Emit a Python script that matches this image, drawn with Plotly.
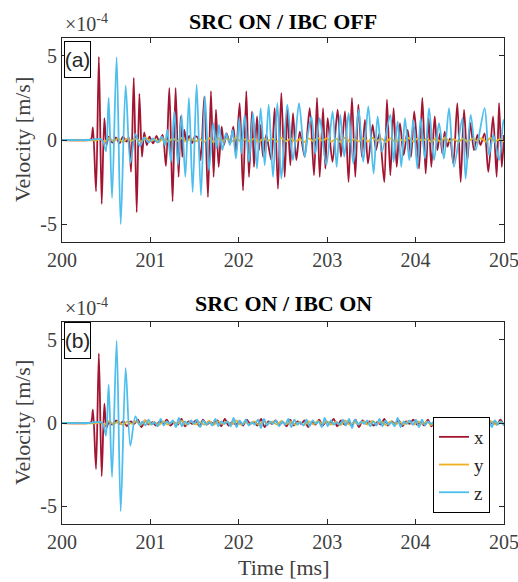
import numpy as np
import plotly.graph_objects as go

# ---------------- data (values x1e-4 m/s, time in ms) ----------------
# Panel (a): SRC ON / IBC OFF  -- (time, value) extrema
x_top = [(200.0, 0), (200.30, 0), (200.33, 0.05), (200.350, 0.75), (200.385, -3.06), (200.417, 4.95),
         (200.449, -3.8), (200.479, 1.3), (200.503, -0.3), (200.53, 0.2), (200.57, -0.15), (200.61, 0.15),
         (200.65, -0.2), (200.69, 0.2), (200.73, -0.1), (200.755, 0.15), (200.781, -1.9), (200.812, 3.7),
         (200.845, -4.3), (200.875, 2.75), (200.905, -1.0), (200.93, 0.45), (200.96, -0.3), (200.99, 0.2),
         (201.03, -0.2), (201.07, 0.25), (201.10, -0.1), (201.138, 0.3), (201.176, -1.55), (201.214, 3.1),
         (201.251, -3.65), (201.285, 3.1), (201.319, -2.2), (201.342, 1.4), (201.361, -1.0), (201.383, 0.6),
         (201.41, -0.1), (201.44, 0.25), (201.47, -0.2), (201.504, 0.2), (201.534, 0.15), (201.568, -1.2),
         (201.61, 2.6), (201.651, -3.4), (201.685, 2.9), (201.715, -2.2), (201.742, 1.8), (201.772, -1.6),
         (201.806, 0.8), (201.832, -0.3), (201.862, 0.4), (201.9, -0.2), (201.938, 0.8), (201.968, -0.8),
         (202.01, 2.2), (202.048, -3.0), (202.085, 2.9), (202.115, -2.2), (202.149, 1.7), (202.172, -1.6),
         (202.206, 1.4), (202.229, -0.6), (202.247, 0.9), (202.274, -1.0), (202.31, 0.3), (202.368, -1.2),
         (202.406, 1.9), (202.443, -2.9), (202.481, 2.8), (202.519, -2.2), (202.549, 1.8), (202.583, -1.5),
         (202.613, 1.6), (202.651, -1.2), (202.69, 0.5), (202.745, -1.0), (202.802, 1.9), (202.851, -2.1),
         (202.885, 2.5), (202.915, -2.2), (202.953, 1.9), (202.979, -1.7), (203.005, 1.3), (203.06, -1.3),
         (203.118, 1.8), (203.156, -1.0), (203.201, 1.7), (203.242, -2.5), (203.28, 2.5), (203.318, -2.2),
         (203.352, 2.1), (203.393, -1.0), (203.427, 1.2), (203.461, -1.4), (203.514, 0.9), (203.552, -0.6),
         (203.59, 0.4), (203.646, -2.5), (203.676, 2.4), (203.714, -2.1), (203.751, 1.9), (203.786, -1.6),
         (203.823, 1.0), (203.865, -0.9), (203.91, 0.6), (203.948, -1.0), (203.985, 1.7), (204.039, -1.7),
         (204.076, 2.5), (204.114, -2.0), (204.148, 1.3), (204.178, -1.6), (204.216, 1.4), (204.246, -0.6),
         (204.276, 0.4), (204.302, -0.8), (204.329, 0.5), (204.36, -0.4), (204.39, 0.1), (204.427, -1.4),
         (204.472, 2.2), (204.51, -2.5), (204.548, 1.8), (204.585, -1.2), (204.62, 1.0), (204.66, -0.6),
         (204.70, 0.3), (204.735, -0.3), (204.78, 0.4), (204.823, -1.9), (204.876, 1.4), (204.917, -2.2),
         (204.944, 2.2), (204.975, -1.6), (205.0, 0.3)]

z_top = [(200.0, 0), (200.30, 0), (200.44, 0.05), (200.47, -0.15), (200.498, -0.67), (200.528, 2.5),
         (200.566, -3.45), (200.618, 4.92), (200.664, -5.0), (200.72, 3.23), (200.773, -1.37), (200.83, 0.36),
         (200.882, -0.38), (200.93, 0.15), (200.98, -0.15), (201.03, 0.1), (201.08, -0.15), (201.13, 0.2),
         (201.165, -0.3), (201.191, 0.6), (201.233, -1.3), (201.27, 1.7), (201.312, -1.5), (201.353, 1.5),
         (201.395, -2.2), (201.436, 2.5), (201.478, -3.1), (201.523, 3.3), (201.572, -3.3), (201.617, 2.6),
         (201.662, -1.8), (201.711, 1.0), (201.749, -0.5), (201.776, 0.9), (201.813, -0.6), (201.855, 0.4),
         (201.9, -0.3), (201.93, 0.6), (201.968, -1.1), (202.006, 1.3), (202.029, -0.8), (202.066, 1.5),
         (202.115, -1.3), (202.161, 1.6), (202.206, -1.7), (202.247, 1.9), (202.293, -1.5), (202.338, 2.1),
         (202.387, -2.2), (202.436, 2.2), (202.481, -2.3), (202.549, 2.1), (202.613, -1.2), (202.681, 2.2),
         (202.745, -1.0), (202.78, 0.3), (202.821, 1.4), (202.866, -0.8), (202.915, 1.3), (202.99, -1.5),
         (203.061, 1.7), (203.107, -1.6), (203.148, 1.5), (203.193, -1.0), (203.242, 1.6), (203.295, -1.4),
         (203.356, 1.8), (203.408, -1.3), (203.465, 2.0), (203.525, -2.0), (203.57, 1.4), (203.619, -0.7),
         (203.714, 1.5), (203.751, -1.3), (203.797, 1.1), (203.838, -1.6), (203.88, 1.3), (203.929, -1.2),
         (203.974, 1.2), (204.02, -1.7), (204.057, 1.3), (204.106, -1.1), (204.152, 1.9), (204.208, -1.2),
         (204.265, 1.0), (204.321, -1.1), (204.378, 1.9), (204.434, -1.6), (204.529, 1.3), (204.566, -2.3),
         (204.623, 1.5), (204.68, -0.6), (204.781, 1.9), (204.83, -0.9), (204.88, 0.3), (204.944, -1.2),
         (204.993, 1.2), (205.0, 1.0)]

# Panel (b): SRC ON / IBC ON -- direct pulses, then small residual noise
x_bot_pulse = [(200.0, 0), (200.30, 0), (200.33, 0.05), (200.350, 0.8), (200.385, -2.76), (200.417, 4.18),
               (200.449, -3.2), (200.479, 1.16), (200.503, -0.3)]
z_bot_pulse = [(200.0, 0), (200.30, 0), (200.44, 0.05), (200.47, -0.15), (200.498, -0.75), (200.528, 2.3),
               (200.566, -3.25), (200.618, 4.93), (200.664, -5.3), (200.72, 3.3), (200.773, -1.37),
               (200.83, 0.4), (200.88, -0.15)]
x_bot_noise = [0.05, -0.1, 0.15, -0.05, 0.1, -0.2, 0.1, -0.05, 0.2, -0.25, 0.15, -0.1, 0.05, -0.15, 0.1, -0.05,
               0.2, -0.15, 0.05, -0.1, 0.25, -0.2, 0.1, -0.05, 0.15, -0.2, 0.2, -0.1, 0.05, -0.05, 0.15, -0.2,
               0.25, -0.15, 0.05, -0.1, 0.1, -0.15, 0.2, -0.05, 0.05, -0.15, 0.25, -0.25, 0.1, -0.05, 0.15, -0.1,
               0.05, -0.2, 0.2, -0.15, 0.1, -0.05, 0.15, -0.25, 0.05, -0.1, 0.2, -0.15, 0.1, -0.05, 0.25, -0.2,
               0.15, -0.1, 0.05, -0.15, 0.2, -0.25, 0.15, -0.05, 0.1, -0.15, 0.05, -0.1, 0.25, -0.15, 0.1, -0.05,
               0.15, -0.2, 0.1, -0.05, 0.2, -0.1, 0.05, -0.15, 0.2, -0.2, 0.1, -0.05, 0.15, -0.1, 0.25, -0.2,
               0.1, -0.1, 0.05, -0.15, 0.2, -0.05, 0.1, -0.2, 0.15, -0.1, 0.05, -0.1, 0.2, -0.15]
z_bot_noise = [0.1, -0.15, 0.2, -0.1, 0.05, -0.2, 0.25, -0.15, 0.1, -0.05, 0.15, -0.25, 0.3, -0.2, 0.1, -0.1,
               0.15, -0.05, 0.2, -0.25, 0.15, -0.1, 0.05, -0.15, 0.25, -0.2, 0.1, -0.05, 0.1, -0.2, 0.3, -0.25,
               0.15, -0.1, 0.2, -0.15, 0.05, -0.1, 0.2, -0.3, 0.25, -0.15, 0.1, -0.05, 0.15, -0.2, 0.1, -0.1,
               0.25, -0.25, 0.2, -0.1, 0.05, -0.15, 0.2, -0.2, 0.15, -0.05, 0.1, -0.25, 0.3, -0.2, 0.15, -0.1,
               0.05, -0.1, 0.2, -0.15, 0.25, -0.3, 0.2, -0.1, 0.1, -0.05, 0.15, -0.2, 0.1, -0.15, 0.25, -0.2,
               0.15, -0.1, 0.05, -0.2, 0.3, -0.25, 0.1, -0.05, 0.15, -0.1, 0.2, -0.25, 0.2, -0.15, 0.1, -0.05,
               0.1, -0.2, 0.25, -0.2, 0.15, -0.1, 0.2, -0.3, 0.25, -0.1, 0.05, -0.15, 0.2, -0.1, 0.15, -0.2,
               0.1, -0.05, 0.2, -0.25, 0.15, -0.1, 0.1, -0.15]
y_noise = [0.05, -0.1, 0.12, -0.08, 0.1, -0.12, 0.08, -0.05, 0.1, -0.1, 0.15, -0.08, 0.05, -0.12, 0.1, -0.1,
           0.08, -0.05, 0.12, -0.1, 0.1, -0.08, 0.05, -0.1, 0.12, -0.12, 0.1, -0.05, 0.08, -0.1, 0.15, -0.1,
           0.05, -0.08, 0.1, -0.12, 0.1, -0.05, 0.08, -0.1, 0.12, -0.08, 0.1, -0.1, 0.05, -0.12, 0.1, -0.08,
           0.12, -0.05, 0.1, -0.1, 0.08, -0.12, 0.15, -0.1, 0.05, -0.08, 0.1, -0.1, 0.12, -0.05, 0.08, -0.12,
           0.1, -0.1, 0.05, -0.08, 0.12, -0.1, 0.1, -0.05, 0.08, -0.12, 0.1, -0.1, 0.15, -0.08, 0.05, -0.1,
           0.1, -0.12, 0.08, -0.05, 0.1, -0.1, 0.12, -0.08, 0.05, -0.1]

x_ticks = [200, 201, 202, 203, 204, 205]
y_ticks = [-5, 0, 5]
y_tick_labels = ["-5", "0", "5"]
series_names = ["x", "y", "z"]
colors = {"x": "#A2142F", "y": "#EDB120", "z": "#4DBEEE"}

# ---------------- build series ----------------
def split(pairs):
    t, v = zip(*pairs)
    return list(t), list(v)

xt_t, xt_v = split(x_top)
zt_t, zt_v = split(z_top)
y_t = [200.0, 200.40] + list(np.linspace(200.43, 205.0, len(y_noise)))
y_v = [0.0, 0.0] + y_noise

xb_t, xb_v = split(x_bot_pulse)
xb_t += list(np.linspace(200.53, 205.0, len(x_bot_noise)))
xb_v += x_bot_noise
zb_t, zb_v = split(z_bot_pulse)
zb_t += list(np.linspace(200.91, 205.0, len(z_bot_noise)))
zb_v += z_bot_noise

W, H = 518, 582
def px_x(p):
    return p / W
def px_y(p):
    return (H - p) / H

fig = go.Figure()
LW = 1.8
line_kw = dict(shape="spline", smoothing=0.8, width=LW)

panels = [
    ("x", "y", [(xt_t, xt_v), (y_t, y_v), (zt_t, zt_v)], False),
    ("x2", "y2", [(xb_t, xb_v), (y_t, y_v), (zb_t, zb_v)], True),
]
for xa, ya, data, show in panels:
    for name, (tt, vv) in zip(series_names, data):
        fig.add_trace(go.Scatter(x=tt, y=vv, mode="lines", name=name, xaxis=xa, yaxis=ya,
                                 line=dict(color=colors[name], **line_kw), showlegend=show))

tick_font = dict(family="Liberation Serif", size=20, color="#404040")
ax_common = dict(showline=True, linecolor="#262626", linewidth=1, mirror="ticks", ticks="inside",
                 ticklen=5, tickcolor="#262626", tickwidth=1, showgrid=False, zeroline=False,
                 tickfont=tick_font, fixedrange=True, automargin=False)

xdom = [px_x(62), px_x(504)]
top_dom = [px_y(242), px_y(38)]
bot_dom = [px_y(524), px_y(322)]

fig.update_layout(
    width=W, height=H, margin=dict(l=0, r=0, t=0, b=0, autoexpand=False),
    paper_bgcolor="white", plot_bgcolor="white",
    xaxis=dict(domain=xdom, range=[200, 205], tickvals=x_ticks, anchor="y",
               ticklabeloverflow="allow", **ax_common),
    yaxis=dict(domain=top_dom, range=[-6.07, 6.07], tickvals=y_ticks, ticktext=y_tick_labels,
               anchor="x", **ax_common),
    xaxis2=dict(domain=xdom, range=[200, 205], tickvals=x_ticks, anchor="y2",
                ticklabeloverflow="allow", **ax_common),
    yaxis2=dict(domain=bot_dom, range=[-6.07, 6.07], tickvals=y_ticks, ticktext=y_tick_labels,
                anchor="x2", **ax_common),
    legend=dict(x=px_x(490), xanchor="right", y=px_y(513), yanchor="bottom",
                bordercolor="black", borderwidth=1, bgcolor="white",
                font=dict(family="Liberation Serif", size=19, color="#262626"),
                tracegroupgap=0, itemwidth=30, entrywidth=30, entrywidthmode="pixels"),
    showlegend=True,
)

serif = "Liberation Serif"
ann = []
for title, yc in [("SRC ON / IBC OFF", 22), ("SRC ON / IBC ON", 304)]:
    ann.append(dict(text=f"<b>{title}</b>", x=px_x(283), y=px_y(yc), xref="paper", yref="paper",
                    xanchor="center", yanchor="middle", showarrow=False,
                    font=dict(family=serif, size=22, color="black")))
for ytop in [38, 322]:
    ann.append(dict(text="×10<sup>-4</sup>", x=px_x(63), y=px_y(ytop - 1), xref="paper", yref="paper",
                    xanchor="left", yanchor="bottom", showarrow=False,
                    font=dict(family=serif, size=20, color="#404040")))
for yc in [140, 423]:
    ann.append(dict(text="Velocity [m/s]", x=px_x(22), y=px_y(yc), xref="paper", yref="paper",
                    xanchor="center", yanchor="middle", textangle=-90, showarrow=False,
                    font=dict(family=serif, size=22, color="#404040")))
ann.append(dict(text="Time [ms]", x=px_x(283), y=px_y(567), xref="paper", yref="paper",
                xanchor="center", yanchor="middle", showarrow=False,
                font=dict(family=serif, size=22, color="#404040")))
for lab, yc in [("(a)", 59.5), ("(b)", 341)]:
    ann.append(dict(text=lab, x=px_x(77.5), y=px_y(yc), xref="paper", yref="paper",
                    xanchor="center", yanchor="middle", showarrow=False,
                    width=25, height=35, borderpad=0, bordercolor="black", borderwidth=1,
                    bgcolor="white", valign="middle", align="center",
                    font=dict(family="Liberation Sans", size=21, color="#262626")))
fig.update_layout(annotations=ann)

fig.write_html("out.html", post_script="document.body.style.margin='0';",
               config={"displayModeBar": False})
